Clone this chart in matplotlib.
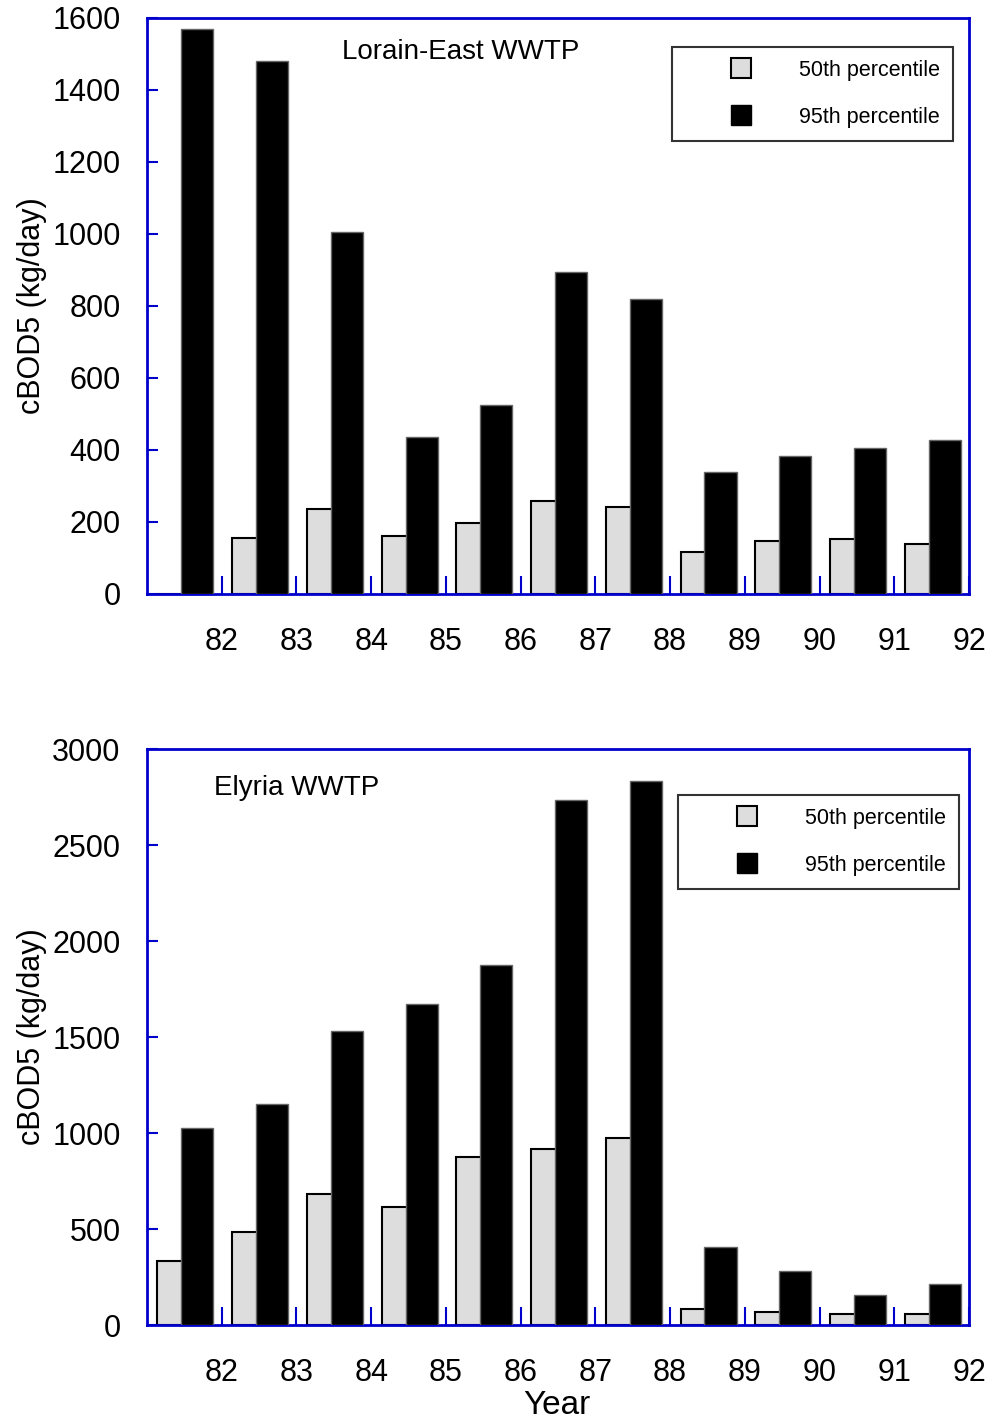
import numpy as np
import matplotlib
matplotlib.use("Agg")
import matplotlib.pyplot as plt
from matplotlib.lines import Line2D

plt.rcParams["font.family"] = ["Liberation Sans", "DejaVu Sans"]

years = [81, 82, 83, 84, 85, 86, 87, 88, 89, 90, 91]
tick_years = [82, 83, 84, 85, 86, 87, 88, 89, 90, 91, 92]

lorain_p50 = [0, 155, 236, 161, 197, 258, 242, 117, 147, 153, 139]
lorain_p95 = [1569, 1481, 1006, 436, 525, 894, 819, 339, 383, 406, 428]

elyria_p50 = [333, 484, 682, 615, 875, 917, 974, 83, 68, 57, 57]
elyria_p95 = [1026, 1151, 1531, 1672, 1875, 2734, 2833, 406, 281, 156, 213]

BLUE = "#0000cc"
GRAY = "#dddddd"


def draw_panel(ax, p50, p95, ymax, ystep, title, title_xy, legend_anchor):
    x = np.array(years, dtype=float)
    ax.bar(x + 0.14, p50, width=0.35, align="edge", color=GRAY,
           edgecolor="black", linewidth=1.5, zorder=2)
    ax.bar(x + 0.46, p95, width=0.43, align="edge", color="black",
           edgecolor="#666666", linewidth=1.0, zorder=3)

    ax.set_xlim(81, 92)
    ax.set_ylim(0, ymax)
    ax.set_yticks(np.arange(0, ymax + 1, ystep))
    ax.set_xticks(tick_years)
    ax.set_xticklabels([str(t) for t in tick_years])
    ax.set_xticks(np.arange(81.5, 92, 1.0), minor=True)

    for s in ax.spines.values():
        s.set_color(BLUE)
        s.set_linewidth(2)

    ax.tick_params(axis="y", direction="in", length=8, width=1.5, color=BLUE,
                   labelsize=22, pad=19, right=False)
    ax.tick_params(axis="x", which="major", direction="in", length=13, width=1.5,
                   color=BLUE, labelsize=22, pad=24, top=False)
    ax.tick_params(axis="x", which="minor", direction="in", length=6, width=1.5,
                   color=BLUE, top=False)

    ax.set_ylabel("cBOD5 (kg/day)", fontsize=22)
    ax.yaxis.set_label_coords(-0.121, 0.5)
    ax.text(title_xy[0], title_xy[1], title, ha="center", va="center", fontsize=20)

    handles = [Line2D([], [], linestyle="none", marker="s", markersize=14,
                      markerfacecolor=GRAY, markeredgecolor="black",
                      markeredgewidth=1.5),
               Line2D([], [], linestyle="none", marker="s", markersize=14,
                      markerfacecolor="black", markeredgecolor="black")]
    leg = ax.legend(handles, ["50th percentile", "95th percentile"],
                    loc="upper left", bbox_to_anchor=legend_anchor,
                    fontsize=15.5, frameon=True, fancybox=False,
                    handlelength=5.2, handletextpad=0.1,
                    borderpad=0.6, labelspacing=1.2, borderaxespad=0)
    leg.get_frame().set_edgecolor("black")
    leg.get_frame().set_linewidth(1.5)
    leg.set_zorder(5)


fig = plt.figure(figsize=(9.95, 14.24), dpi=100)
ax1 = fig.add_axes([0.1477, 0.5829, 0.8262, 0.4045])
ax2 = fig.add_axes([0.1477, 0.0695, 0.8262, 0.4045])

draw_panel(ax1, lorain_p50, lorain_p95, 1600, 200, "Lorain-East WWTP",
           (85.2, 1506), (0.6387, 0.9497))
draw_panel(ax2, elyria_p50, elyria_p95, 3000, 500, "Elyria WWTP",
           (83.0, 2795), (0.646, 0.920))

ax2.set_xlabel("Year", fontsize=24)
ax2.xaxis.set_label_coords(0.499, -0.112)

fig.savefig("out.png", dpi=100)
